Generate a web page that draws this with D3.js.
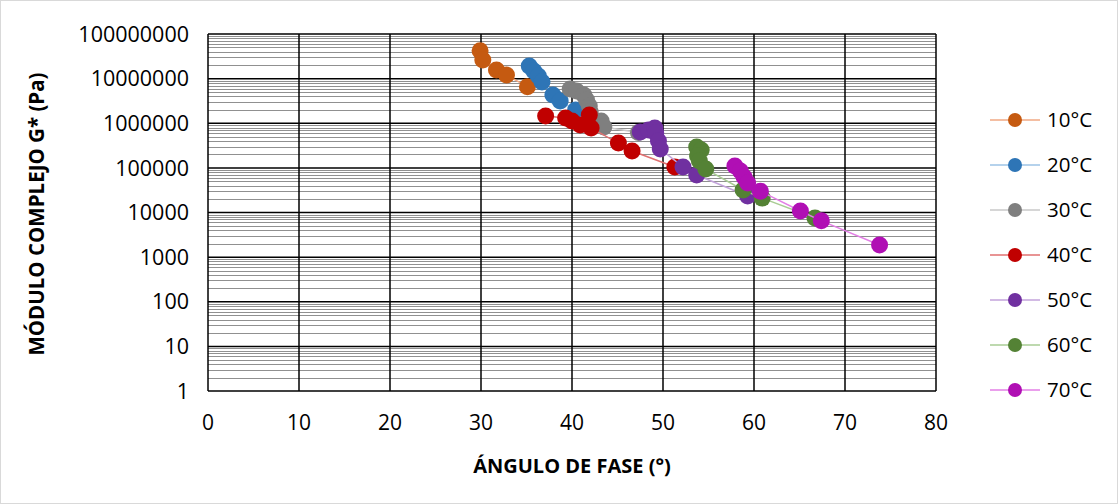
<!DOCTYPE html>
<html>
<head>
<meta charset="utf-8">
<script src="https://cdn.jsdelivr.net/npm/d3@7"></script>
<style>
  body { margin: 0; background: #fff; }
  text { font-family: "Open Sans", sans-serif; fill: #000; }
</style>
</head>
<body>
<div id="chart"></div>
<script>
// series labels and colours
var seriesNames = ["10°C", "20°C", "30°C", "40°C", "50°C", "60°C", "70°C"];
var markerColors = ["#C55A11", "#2E75B6", "#7F7F7F", "#C00000", "#7030A0", "#548235", "#B00FB4"];
var lineColors = ["#F1A983", "#9DC3E6", "#C9C9C9", "#E07070", "#C3A3DB", "#A9CC94", "#E37FE6"];

// phase angle (°) per series
var angle10 = [29.9, 30.2, 31.7, 32.8, 35.1];
var angle20 = [35.3, 35.8, 36.3, 36.7, 37.9, 38.7, 40.4];
var angle30 = [39.8, 40.5, 41.3, 41.6, 41.9, 42.0, 43.2, 43.5, 47.3];
var angle40 = [37.1, 39.3, 40.0, 40.9, 41.9, 42.1, 45.1, 46.6, 51.3];
var angle50 = [47.5, 48.4, 49.1, 49.2, 49.5, 49.7, 52.2, 53.7, 59.3];
var angle60 = [53.7, 54.2, 53.8, 54.0, 54.7, 58.8, 60.9, 66.7];
var angle70 = [57.9, 58.5, 58.9, 59.3, 60.7, 65.1, 67.4, 73.8];

// complex modulus G* (Pa) per series
var mod10 = [42000000, 26000000, 15600000, 12000000, 6600000];
var mod20 = [19200000, 14800000, 11500000, 8400000, 4300000, 3150000, 1980000];
var mod30 = [5860000, 5300000, 4300000, 3300000, 2440000, 1790000, 1120000, 820000, 620000];
var mod40 = [1450000, 1310000, 1120000, 910000, 1530000, 780000, 360000, 239000, 105000];
var mod50 = [640000, 710000, 780000, 605000, 400000, 265000, 105000, 69000, 23400];
var mod60 = [294000, 252000, 185000, 143000, 94000, 32000, 21000, 7500];
var mod70 = [110000, 85000, 62500, 46000, 30000, 10800, 6500, 1870];

var xTicks = [0, 10, 20, 30, 40, 50, 60, 70, 80];
var yTicks = [1, 10, 100, 1000, 10000, 100000, 1000000, 10000000, 100000000];

var angles = [angle10, angle20, angle30, angle40, angle50, angle60, angle70];
var moduli = [mod10, mod20, mod30, mod40, mod50, mod60, mod70];

var w = 1118, h = 504;
var plotLeft = 208, plotRight = 936, plotTop = 34, plotBottom = 391;

var svg = d3.select("#chart").append("svg")
    .attr("width", w)
    .attr("height", h);

// chart border
svg.append("rect")
    .attr("x", 0.5).attr("y", 0.5)
    .attr("width", w - 1).attr("height", h - 1)
    .attr("fill", "#fff")
    .attr("stroke", "#D9D9D9");

var xScale = d3.scaleLinear().domain([0, 80]).range([plotLeft, plotRight]);
var yScale = d3.scaleLog().domain([1, 100000000]).range([plotBottom, plotTop]);

// minor gridlines (2..9 in each decade)
var minor = [];
yTicks.slice(0, -1).forEach(function(d) {
    for (var k = 2; k <= 9; k++) minor.push(d * k);
});
svg.append("g").selectAll("line")
    .data(minor)
    .enter().append("line")
    .attr("x1", plotLeft).attr("x2", plotRight)
    .attr("y1", function(d) { return Math.round(yScale(d)) + 0.5; })
    .attr("y2", function(d) { return Math.round(yScale(d)) + 0.5; })
    .attr("stroke", "#909090")
    .attr("stroke-width", 1.2);

// major gridlines
svg.append("g").selectAll("line")
    .data(yTicks)
    .enter().append("line")
    .attr("x1", plotLeft).attr("x2", plotRight)
    .attr("y1", function(d) { return yScale(d); })
    .attr("y2", function(d) { return yScale(d); })
    .attr("stroke", "#000")
    .attr("stroke-width", 1.5);

svg.append("g").selectAll("line")
    .data(xTicks)
    .enter().append("line")
    .attr("x1", function(d) { return xScale(d); })
    .attr("x2", function(d) { return xScale(d); })
    .attr("y1", plotTop).attr("y2", plotBottom)
    .attr("stroke", "#000")
    .attr("stroke-width", 1.5);

// tick labels
svg.append("g").selectAll("text")
    .data(yTicks)
    .enter().append("text")
    .attr("x", 189)
    .attr("y", function(d) { return yScale(d); })
    .attr("dy", "0.36em")
    .attr("text-anchor", "end")
    .style("font-size", "21.5px")
    .text(function(d) { return String(d); });

svg.append("g").selectAll("text")
    .data(xTicks)
    .enter().append("text")
    .attr("x", function(d) { return xScale(d); })
    .attr("y", 422)
    .attr("dy", "0.36em")
    .attr("text-anchor", "middle")
    .style("font-size", "21px")
    .text(function(d) { return d; });

// axis titles
svg.append("text")
    .attr("x", 572).attr("y", 466)
    .attr("dy", "0.36em")
    .attr("text-anchor", "middle")
    .style("font-size", "20px")
    .style("font-weight", "bold")
    .text("ÁNGULO DE FASE (°)");

svg.append("text")
    .attr("transform", "translate(37,214) rotate(-90)")
    .attr("dy", "0.36em")
    .attr("text-anchor", "middle")
    .style("font-size", "20.5px")
    .style("font-weight", "bold")
    .text("MÓDULO COMPLEJO G* (Pa)");

var line = d3.line()
    .x(function(d) { return xScale(d[0]); })
    .y(function(d) { return yScale(d[1]); });

// series
seriesNames.forEach(function(name, i) {
    var pts = angles[i].map(function(a, j) { return [a, moduli[i][j]]; });
    var g = svg.append("g");
    g.append("path")
        .datum(pts)
        .attr("d", line)
        .attr("fill", "none")
        .attr("stroke", lineColors[i])
        .attr("stroke-width", 1.5);
    g.selectAll("circle")
        .data(pts)
        .enter().append("circle")
        .attr("cx", function(d) { return xScale(d[0]); })
        .attr("cy", function(d) { return yScale(d[1]); })
        .attr("r", 8.5)
        .attr("fill", markerColors[i]);
});

// legend
var legend = svg.append("g").selectAll("g")
    .data(seriesNames)
    .enter().append("g")
    .attr("transform", function(d, i) { return "translate(0," + (120 + i * 45) + ")"; });

legend.append("line")
    .attr("x1", 990).attr("x2", 1040)
    .attr("stroke", function(d, i) { return lineColors[i]; })
    .attr("stroke-width", 1.5);

legend.append("circle")
    .attr("cx", 1015)
    .attr("r", 7)
    .attr("fill", function(d, i) { return markerColors[i]; });

legend.append("text")
    .attr("x", 1047)
    .attr("dy", "0.36em")
    .style("font-size", "20.5px")
    .text(function(d) { return d; });
</script>
</body>
</html>
